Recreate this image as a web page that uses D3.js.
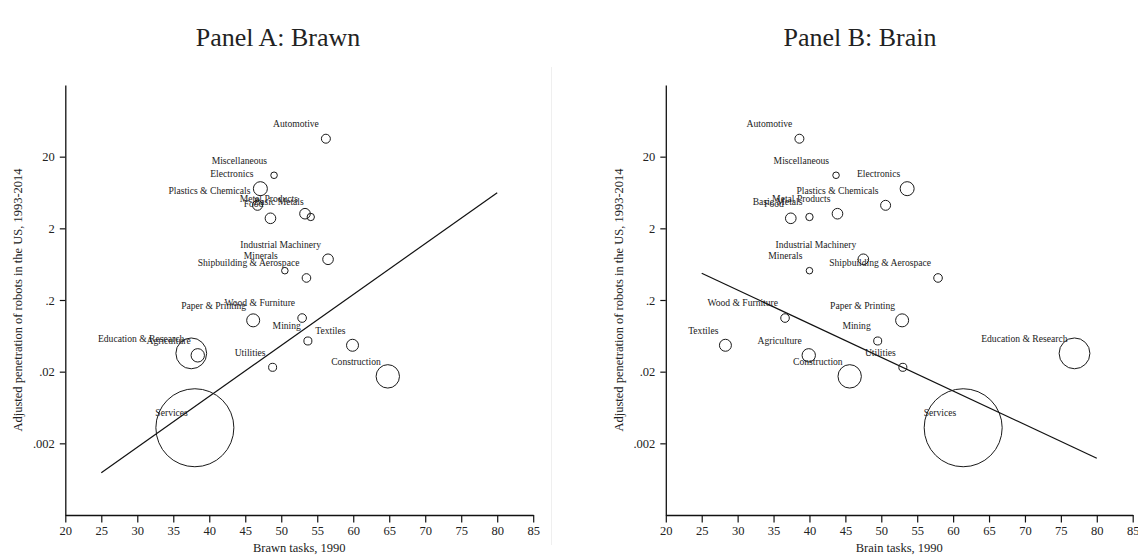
<!DOCTYPE html>
<html>
<head>
<meta charset="utf-8">
<script src="https://cdn.jsdelivr.net/npm/d3@7"></script>
<style>
  html, body { margin: 0; padding: 0; background: #fff; }
  svg { display: block; }
  text { font-family: "Liberation Serif", "Times New Roman", serif; fill: #222; }
</style>
</head>
<body>
<svg id="chart" width="1138" height="558"></svg>
<script>
// Industries (same order in every array below)
const industries = [
  "Automotive", "Miscellaneous", "Electronics", "Plastics & Chemicals", "Food",
  "Metal Products", "Basic Metals", "Industrial Machinery", "Minerals",
  "Shipbuilding & Aerospace", "Paper & Printing", "Wood & Furniture", "Mining",
  "Textiles", "Education & Research", "Agriculture", "Utilities", "Construction",
  "Services"
];
// Share of brawn tasks in 1990
const brawnTasks = [56.2, 49.0, 47.1, 46.7, 48.5, 53.3, 54.1, 56.5, 50.5, 53.5,
                    46.1, 52.9, 53.7, 59.9, 37.5, 38.4, 48.8, 64.8, 38.0];
// Share of brain tasks in 1990
const brainTasks = [38.6, 43.7, 53.6, 50.6, 37.4, 43.9, 40.0, 47.5, 40.0, 57.9,
                    52.9, 36.6, 49.5, 28.3, 76.9, 39.9, 53.0, 45.6, 61.4];
// Adjusted penetration of robots in the US, 1993-2014
const penetration = [35.6, 11.0, 7.15, 4.19, 2.76, 3.2, 2.88, 0.74, 0.513, 0.406,
                     0.104, 0.112, 0.0536, 0.0467, 0.036, 0.0338, 0.023, 0.0172, 0.0033];
// Baseline employment share (%), used as marker weight
const employment = [0.73, 0.39, 1.77, 0.90, 1.02, 1.02, 0.49, 1.02, 0.39, 0.67,
                    1.53, 0.67, 0.58, 1.30, 8.57, 1.62, 0.58, 4.95, 55.0];

// Weighted fitted lines (endpoints at x = 25 and x = 80)
const fitX = [25, 80];
const fitBrawn = [0.00078, 6.28];
const fitBrain = [0.472, 0.00124];

const xTicks = d3.range(20, 90, 5);
const yTicks = [0.002, 0.02, 0.2, 2, 20];
const yTickLabels = [".002", ".02", ".2", "2", "20"];

const svg = d3.select("#chart");

const rScale = d3.scaleSqrt().domain([0, d3.max(employment)]).range([0, 39]);

const fmtY = v => yTickLabels[yTicks.indexOf(v)];

function panel(opts) {
  const { left, right, xs, fitY, xTitle, title, titleX } = opts;
  const g = svg.append("g");

  const x = d3.scaleLinear().domain([20, 85]).range([left, right]);
  const y = d3.scaleLog().domain([0.0002, 200]).range([515, 85]);

  // title
  g.append("text")
    .attr("x", titleX).attr("y", 46)
    .attr("text-anchor", "middle")
    .style("font-size", "26px")
    .text(title);

  // x axis
  const xa = g.append("g")
    .attr("transform", "translate(0,515)")
    .call(d3.axisBottom(x).tickValues(xTicks).tickSize(7.5).tickPadding(4).tickSizeOuter(0));
  xa.select(".domain").attr("stroke", "#111").attr("stroke-width", 1.3);
  xa.selectAll(".tick line").attr("stroke", "#111").attr("stroke-width", 1.2);
  xa.selectAll(".tick text").style("font-size", "12.5px")
    .style("font-family", "'Liberation Serif', serif").attr("fill", "#222");

  // y axis
  const ya = g.append("g")
    .attr("transform", `translate(${left},0)`)
    .call(d3.axisLeft(y).tickValues(yTicks).tickFormat(fmtY).tickSize(5.5).tickPadding(5).tickSizeOuter(0));
  ya.select(".domain").attr("stroke", "#111").attr("stroke-width", 1.3);
  ya.selectAll(".tick line").attr("stroke", "#111").attr("stroke-width", 1.2);
  ya.selectAll(".tick text").style("font-size", "12.5px")
    .style("font-family", "'Liberation Serif', serif").attr("fill", "#222");

  // axis titles
  g.append("text")
    .attr("x", (left + right) / 2).attr("y", 552)
    .attr("text-anchor", "middle")
    .style("font-size", "12.5px")
    .text(xTitle);
  g.append("text")
    .attr("transform", `translate(${left - 43},300) rotate(-90)`)
    .attr("text-anchor", "middle")
    .style("font-size", "12.5px")
    .text("Adjusted penetration of robots in the US, 1993-2014");

  // fitted line
  g.append("path")
    .datum(fitX.map((v, i) => [v, fitY[i]]))
    .attr("fill", "none")
    .attr("stroke", "#111")
    .attr("stroke-width", 1.2)
    .attr("d", d3.line().x(d => x(d[0])).y(d => y(d[1])));

  const data = industries.map((name, i) => ({ name, xv: xs[i], yv: penetration[i], w: employment[i] }));

  // markers
  g.selectAll("circle.m").data(data).join("circle")
    .attr("class", "m")
    .attr("cx", d => x(d.xv))
    .attr("cy", d => y(d.yv))
    .attr("r", d => rScale(d.w))
    .attr("fill", "none")
    .attr("stroke", "#1a1a1a")
    .attr("stroke-width", 1);

  // marker labels (upper left of each marker)
  g.selectAll("text.lab").data(data).join("text")
    .attr("class", "lab")
    .attr("x", d => x(d.xv) - 7)
    .attr("y", d => y(d.yv) - 11.7)
    .attr("text-anchor", "end")
    .style("font-size", "9.6px")
    .attr("fill", "#2a2a2a")
    .text(d => d.name);
}

panel({ left: 65.3, right: 533.2, xs: brawnTasks, fitY: fitBrawn,
        xTitle: "Brawn tasks, 1990", title: "Panel A: Brawn", titleX: 278 });
panel({ left: 665.8, right: 1132.7, xs: brainTasks, fitY: fitBrain,
        xTitle: "Brain tasks, 1990", title: "Panel B: Brain", titleX: 860 });

// faint separator between the two graph regions
svg.append("line")
  .attr("x1", 551.5).attr("x2", 551.5)
  .attr("y1", 67).attr("y2", 545)
  .attr("stroke", "#efefef").attr("stroke-width", 1);
</script>
</body>
</html>
